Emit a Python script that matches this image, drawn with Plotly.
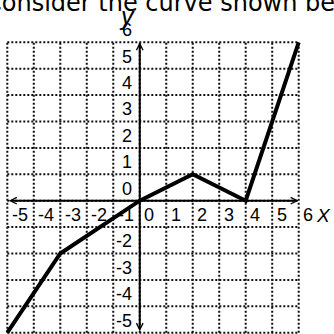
import plotly.graph_objects as go

# curve vertices
curve_x = [-5, -3, 0, 2, 4, 6]
curve_y = [-5, -2, 0, 1, 0, 6]

# grid and tick labels
grid_ticks = list(range(-5, 7))
x_labels = ["-5", "-4", "-3", "-2", "-1", "0", "1", "2", "3", "4", "5", "6"]
x_label_vals = [-5, -4, -3, -2, -1, 0, 1, 2, 3, 4, 5, 6]
y_labels = ["6", "5", "4", "3", "2", "1", "0", "-2", "-3", "-4", "-5"]
y_label_vals = [6, 5, 4, 3, 2, 1, 0, -2, -3, -4, -5]

lo, hi = grid_ticks[0], grid_ticks[-1]

fig = go.Figure()

# dotted grid, only inside [-5, 6]
gx, gy = [], []
for k in grid_ticks:
    gx += [k, k, None, lo, hi, None]
    gy += [lo, hi, None, k, k, None]
fig.add_trace(go.Scatter(x=gx, y=gy, mode='lines',
                         line=dict(color='#111', width=2, dash='2px,2px'),
                         hoverinfo='skip'))

# the curve
fig.add_trace(go.Scatter(x=curve_x, y=curve_y, mode='lines',
                         line=dict(color='black', width=4), hoverinfo='skip'))

ann = []
# axes with arrows at both ends
ann.append(dict(x=hi, y=0, ax=lo, ay=0, xref='x', yref='y', axref='x', ayref='y',
                text='', showarrow=True, arrowside='end+start', arrowhead=5,
                arrowsize=0.65, arrowwidth=2, arrowcolor='black'))
ann.append(dict(x=0, y=hi, ax=0, ay=lo, xref='x', yref='y', axref='x', ayref='y',
                text='', showarrow=True, arrowside='end+start', arrowhead=5,
                arrowsize=0.65, arrowwidth=2, arrowcolor='black'))

lab_font = dict(family='Liberation Sans, Arial', size=18, color='black')
for t, v in zip(x_labels, x_label_vals):
    ann.append(dict(x=v + 0.1, y=-0.55, xref='x', yref='y', text=t, showarrow=False,
                    xanchor='left', yanchor='middle', font=lab_font))
for t, v in zip(y_labels, y_label_vals):
    ann.append(dict(x=-0.2, y=v + 0.46, xref='x', yref='y', text=t, showarrow=False,
                    xanchor='right', yanchor='middle', font=lab_font))

# axis names
ann.append(dict(x=6.58, y=-0.55, xref='x', yref='y', text='<i>X</i>', showarrow=False,
                xanchor='left', yanchor='middle',
                font=dict(family='Liberation Sans, Arial', size=19, color='black')))
ann.append(dict(x=-0.48, y=6.98, xref='x', yref='y', text='<i>y</i>', showarrow=False,
                xanchor='center', yanchor='middle',
                font=dict(family='Liberation Sans, Arial', size=25, color='black')))

# cut-off sentence at the top
ann.append(dict(x=-17.5 / 334, y=1 - 3 / 334, xref='paper', yref='paper',
                text='Consider the curve shown below.', showarrow=False,
                xanchor='left', yanchor='middle',
                font=dict(family='DejaVu Sans', size=24, color='black')))

fig.update_layout(
    annotations=ann,
    width=334, height=334, autosize=False,
    showlegend=False,
    margin=dict(l=0, r=0, t=0, b=0),
    plot_bgcolor='white', paper_bgcolor='white',
    xaxis=dict(range=[-5.2756, 7.333], visible=False, fixedrange=True),
    yaxis=dict(range=[-5.05, 7.602], visible=False, fixedrange=True),
)

fig.write_html("out.html", config=dict(displayModeBar=False),
               post_script="document.body.style.margin='0';")
